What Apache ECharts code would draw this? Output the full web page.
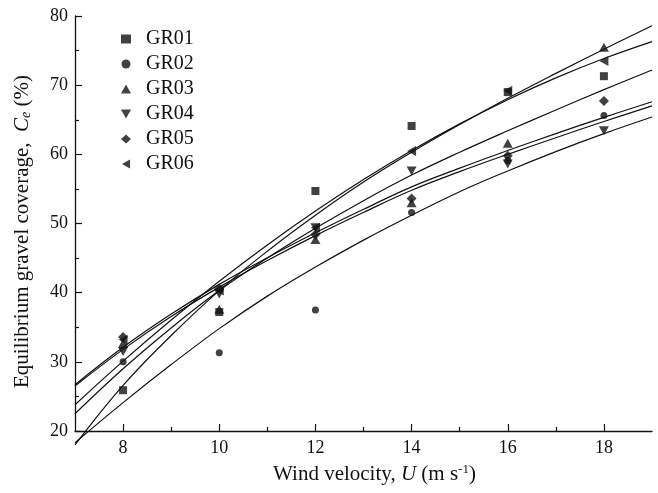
<!DOCTYPE html>
<html>
<head>
<meta charset="utf-8">
<script src="https://cdn.jsdelivr.net/npm/echarts@6/dist/echarts.min.js"></script>
<style>
html,body{margin:0;padding:0;background:#fff;}
#chart{width:658px;height:493px;}
</style>
</head>
<body>
<div id="chart"></div>
<script>
// Measured points (wind velocity, m/s)
const velocity = [8, 10, 12, 14, 16, 18];
const gr01 = [25.9, 37.2, 54.7, 64.1, 69.0, 71.3];
const gr02 = [30.0, 31.3, 37.5, 51.6, 59.1, 65.6];
const gr03 = [32.7, 37.6, 47.7, 53.0, 61.6, 75.5];
const gr04 = [31.5, 39.8, 49.4, 57.6, 58.6, 63.4];
const gr05 = [33.6, 40.6, 48.4, 53.6, 59.8, 67.7];
const gr06 = [33.2, 40.3, 49.4, 60.5, 69.2, 73.5];

// Fitted curves
const fitX = [7, 8, 9, 10, 11, 12, 13, 14, 15, 16, 17, 18, 19];
const fit01 = [18.0, 26.6, 33.8, 40.3, 46.0, 51.2, 56.0, 60.3, 64.3, 68.1, 71.7, 75.2, 78.6];
const fit02 = [18.3, 24.1, 29.6, 34.8, 39.5, 43.7, 47.6, 51.2, 54.6, 57.6, 60.4, 63.0, 65.4];
const fit03 = [22.5, 29.0, 34.9, 40.3, 45.0, 49.3, 53.3, 57.0, 60.3, 63.4, 66.4, 69.35, 72.2];
const fit04 = [26.5, 31.8, 36.55, 40.8, 44.65, 48.25, 51.6, 54.8, 57.5, 60.0, 62.4, 64.75, 67.0];
const fit05 = [26.7, 32.1, 36.9, 41.2, 45.05, 48.65, 52.05, 55.3, 58.0, 60.55, 63.0, 65.35, 67.6];
const fit06 = [23.8, 30.1, 36.05, 41.65, 46.9, 51.8, 56.35, 60.55, 64.4, 67.9, 71.05, 73.85, 76.3];

const seriesNames = ['GR01', 'GR02', 'GR03', 'GR04', 'GR05', 'GR06'];
const xMajorTicks = [8, 10, 12, 14, 16, 18];
const xMinorTicks = [9, 11, 13, 15, 17];

const FONT = 'Liberation Serif';
const INK = '#111';

const pts = [gr01, gr02, gr03, gr04, gr05, gr06];
const fits = [fit01, fit02, fit03, fit04, fit05, fit06];
const symbols = [
  {symbol: 'rect', size: 8},
  {symbol: 'circle', size: 7},
  {symbol: 'path://M5,0 L10,9 L0,9 Z', size: [10, 9]},
  {symbol: 'path://M0,0 L10,0 L5,9 Z', size: [10, 9]},
  {symbol: 'diamond', size: 10},
  {symbol: 'path://M9,0 L9,10 L0,5 Z', size: [9, 10]}
];

const series = [];
fits.forEach(function (f, i) {
  series.push({
    name: 'fit ' + seriesNames[i],
    type: 'line',
    data: fitX.map(function (x, k) { return [x, f[k]]; }),
    smooth: 0.4,
    showSymbol: false,
    clip: false,
    silent: true,
    lineStyle: {color: INK, width: 1.2},
    z: 2
  });
});
pts.forEach(function (p, i) {
  series.push({
    name: seriesNames[i],
    type: 'scatter',
    data: velocity.map(function (x, k) { return [x, p[k]]; }),
    symbol: symbols[i].symbol,
    symbolSize: symbols[i].size,
    itemStyle: {color: INK},
    z: 3
  });
});

const chart = echarts.init(document.getElementById('chart'), null, {renderer: 'canvas'});
chart.setOption({
  animation: false,
  backgroundColor: '#fff',
  grid: {left: 75, right: 6, top: 16, bottom: 62, containLabel: false},
  legend: {
    data: seriesNames,
    orient: 'vertical',
    left: 116,
    top: 24,
    itemWidth: 10,
    itemHeight: 9,
    itemGap: 5,
    symbolKeepAspect: true,
    textStyle: {fontFamily: FONT, fontSize: 20, color: INK, lineHeight: 20, padding: [0, 0, 0, 10]}
  },
  xAxis: [{
    type: 'value',
    min: 7, max: 19, interval: 1,
    position: 'bottom',
    name: 'Wind velocity, {i|U} (m s{sup|-1})',
    nameLocation: 'middle',
    nameGap: 32,
    nameTextStyle: {
      fontFamily: FONT, fontSize: 21, color: INK, padding: [0, 0, 0, 22],
      rich: {
        i: {fontFamily: FONT, fontSize: 21, fontStyle: 'italic', color: INK},
        sup: {fontFamily: FONT, fontSize: 13, color: INK, verticalAlign: 'top', padding: [0, 0, 9, 0]}
      }
    },
    axisLine: {lineStyle: {color: INK, width: 1.3}},
    axisTick: {inside: true, length: 7, customValues: xMajorTicks, lineStyle: {color: INK, width: 1.2}},
    axisLabel: {customValues: xMajorTicks, fontFamily: FONT, fontSize: 18, color: INK, margin: 8},
    splitLine: {show: false}
  }, {
    type: 'value',
    min: 7, max: 19, interval: 1,
    position: 'top',
    offset: -415,
    axisLine: {show: false},
    axisTick: {inside: false, length: 4, customValues: xMinorTicks, lineStyle: {color: INK, width: 1.2}},
    axisLabel: {show: false},
    splitLine: {show: false}
  }],
  yAxis: {
    type: 'value',
    min: 20, max: 80, interval: 10,
    name: 'Equilibrium gravel coverage,  {i|C}{sub|e} (%)',
    nameLocation: 'middle',
    nameGap: 42,
    nameTextStyle: {
      fontFamily: FONT, fontSize: 21, color: INK, padding: [0, 16, 0, 0],
      rich: {
        i: {fontFamily: FONT, fontSize: 21, fontStyle: 'italic', color: INK},
        sub: {fontFamily: FONT, fontSize: 14, fontStyle: 'italic', color: INK, verticalAlign: 'bottom', padding: [7, 0, 0, 0]}
      }
    },
    axisLine: {show: true, lineStyle: {color: INK, width: 1.3}},
    axisTick: {inside: true, length: 7, lineStyle: {color: INK, width: 1.2}},
    minorTick: {show: true, splitNumber: 2, length: 4, lineStyle: {color: INK, width: 1.2}},
    axisLabel: {fontFamily: FONT, fontSize: 18, color: INK, margin: 7},
    splitLine: {show: false},
    minorSplitLine: {show: false}
  },
  series: series
});
</script>
</body>
</html>
